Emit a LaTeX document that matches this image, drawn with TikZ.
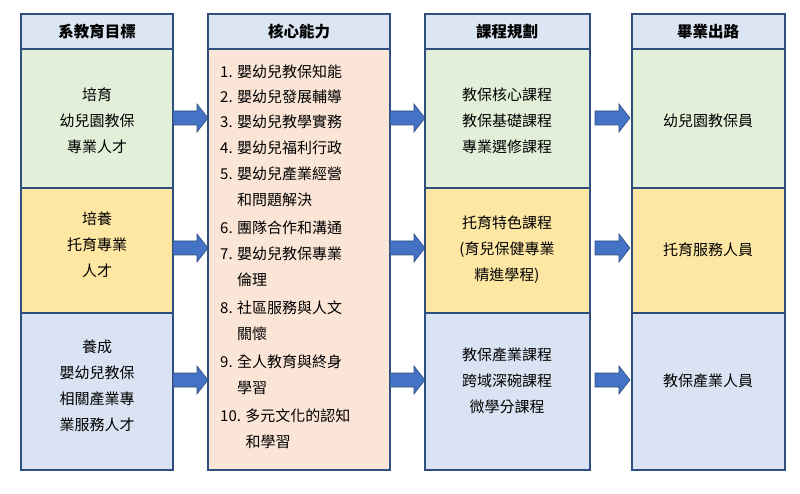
\documentclass[tikz,border=0pt]{standalone}
\usepackage{fontspec}
\setmainfont{Noto Sans CJK TC}
\definecolor{hd}{HTML}{DCE6F2}
\definecolor{gr}{HTML}{E2EFD9}
\definecolor{ye}{HTML}{FDE7A3}
\definecolor{bl}{HTML}{DAE3F3}
\definecolor{pk}{HTML}{FBE5D6}
\definecolor{ln}{HTML}{2F4F7F}
\definecolor{ar}{HTML}{4472C4}
\begin{document}
\begin{tikzpicture}[x=1pt,y=-1pt,
  box/.style={draw=ln,line width=1.3pt},
  t/.style={font=\fontsize{15}{26}\selectfont,inner sep=0pt},
  h/.style={font=\bfseries\fontsize{15.5}{18}\selectfont,inner sep=0pt},
  pics/barr/.style={code={
    \filldraw[draw=ln,fill=ar,line width=0.6pt] (0,-7) -- (24,-7) -- (24,-14) -- (35,0) -- (24,14) -- (24,7) -- (0,7) -- cycle;}}]
\useasboundingbox (0,0) rectangle (800,494);
\foreach \nm/\xa/\xb in {a/21/173,b/208/390,c/425/590,d/632/785}{
  \filldraw[box,fill=hd] (\xa,14) rectangle (\xb,49);
}
\foreach \xa/\xb in {21/173,425/590,632/785}{
  \filldraw[box,fill=gr] (\xa,49) rectangle (\xb,188);
  \filldraw[box,fill=ye] (\xa,188) rectangle (\xb,313);
  \filldraw[box,fill=bl] (\xa,313) rectangle (\xb,470);
}
\filldraw[box,fill=pk] (208,49) rectangle (390,470);
\node[h] (ha) at (97,32) {系教育目標};
\node[h] (hb) at (299,32) {核心能力};
\node[h] (hc) at (507,32) {課程規劃};
\node[h] (hd) at (708,32) {畢業出路};
% col1
\node[t,align=center] (a1) at (97,121) {培育\\幼兒園教保\\專業人才};
\node[t,align=center] (a2) at (97,245) {培養\\托育專業\\人才};
\node[t,align=center] (a3) at (97,386) {養成\\嬰幼兒教保\\相關產業專\\業服務人才};
% col2
\foreach \i/\y/\s in {1/72/{1. 嬰幼兒教保知能},2/97/{2. 嬰幼兒發展輔導},3/122/{3. 嬰幼兒教學實務},4/148/{4. 嬰幼兒福利行政},5/174/{5. 嬰幼兒產業經營},6/200/{\phantom{5. }和問題解決},7/228/{6. 團隊合作和溝通},8/254/{7. 嬰幼兒教保專業},9/280/{\phantom{7. }倫理},10/308/{8. 社區服務與人文},11/334/{\phantom{8. }關懷},12/362/{9. 全人教育與終身},13/388/{\phantom{9. }學習},14/416/{10. 多元文化的認知},15/442/{\phantom{10. }和學習}}{
  \node[t,anchor=west] (b\i) at (220,\y) {\s};
}
% col3
\node[t,align=center] (c1) at (507,121) {教保核心課程\\教保基礎課程\\專業選修課程};
\node[t,align=center] (c2) at (507,250) {托育特色課程\\(育兒保健專業\\精進學程)};
\node[t,align=center] (c3) at (507,381) {教保產業課程\\跨域深碗課程\\微學分課程};
% col4
\node[t] (d1) at (708,121) {幼兒園教保員};
\node[t] (d2) at (708,250) {托育服務人員};
\node[t] (d3) at (708,381) {教保產業人員};
% arrows
\foreach \y in {118,248,380}{
  \pic at (173,\y) {barr};
  \pic at (390,\y) {barr};
  \pic at (595,\y) {barr};
}
\end{tikzpicture}
\end{document}
